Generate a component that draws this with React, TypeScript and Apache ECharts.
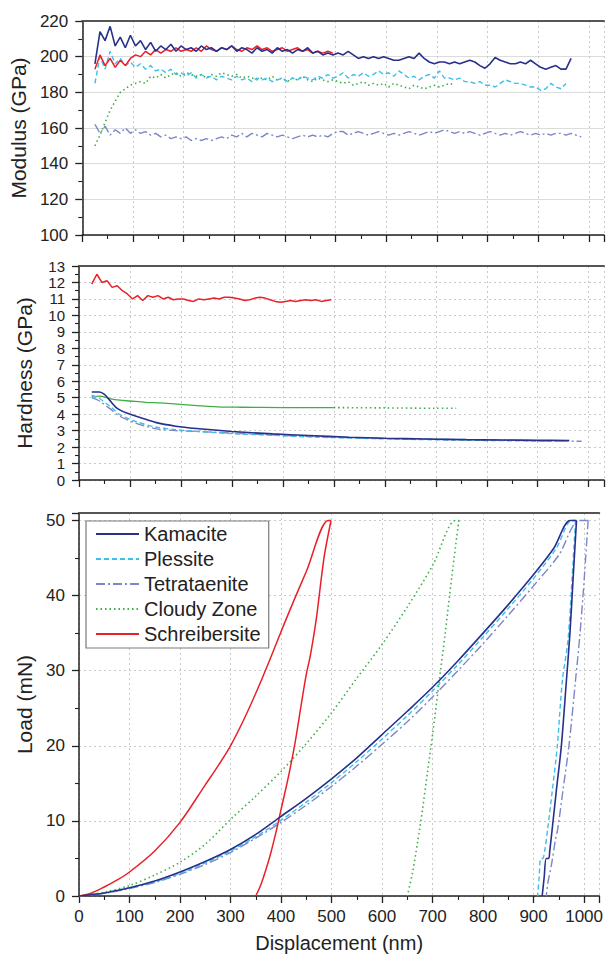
import React, { useEffect, useRef } from "react";
import * as echarts from "echarts";

const FONT = '"Liberation Sans", Arial, Helvetica, sans-serif';

// Sampled series start at 25 nm, every 10 nm
const START_NM = 25;
const STEP_NM = 10;

const materialNames = ["Kamacite", "Plessite", "Tetrataenite", "Cloudy Zone", "Schreibersite"];

// ---------- Modulus (GPa) ----------
const modKamacite = [
  196, 214, 209, 217, 206, 211, 205, 212, 206, 209,
  204, 208, 203, 206, 204, 207, 203, 206, 204, 205,
  203, 206, 204, 205, 203, 205, 204, 206, 203, 205,
  204, 202, 205, 203, 204, 202, 205, 203, 204, 202,
  204, 203, 205, 202, 203, 201, 202, 201, 202, 201,
  203, 201, 199, 200, 199, 200, 199, 200, 199, 198,
  198, 199, 200, 199, 202, 199, 197, 196, 197, 197,
  196, 197, 196, 197, 198, 197, 195, 193.5, 196, 199.5,
  198, 197, 196, 196, 197, 196, 198, 196, 194, 193,
  194, 195, 193, 193, 199,
];
const modPlessite = [
  185, 200, 193, 203, 196, 199, 195, 197, 194, 196,
  193, 195, 192, 193, 191, 193, 190, 191, 189, 191,
  188, 190, 188, 189, 187, 189, 188, 187, 189, 187,
  188, 186, 188, 187, 188, 186, 187, 188, 186, 188,
  187, 189, 188, 187, 189, 188, 190, 188, 189, 191,
  188, 190, 189, 191, 189, 190, 192, 190, 191, 189,
  192, 190, 188, 189, 187, 189, 190, 188, 192, 188,
  188, 187, 188, 186, 186, 185, 186, 184, 184, 183,
  185, 187, 186, 185, 185, 184, 183, 183, 181, 182,
  185, 183, 182, 185,
];
const modTetrataenite = [
  162, 157, 161, 156, 159, 157, 160, 157, 159, 157,
  158, 156, 157, 155, 156, 154, 155, 154, 155, 153,
  154, 153, 154, 153, 154, 155, 154, 156, 155, 157,
  155, 157, 156, 155, 157, 156, 155, 156, 155, 154,
  155, 156, 155, 156, 155, 156, 155, 157, 158, 158,
  156, 157, 158, 157, 156, 157, 158, 157, 156, 157,
  156, 157, 158, 157, 156, 157, 158, 157, 158, 159,
  158, 157, 158, 157, 158, 157, 156, 157, 158, 157,
  156, 157, 156, 157, 158, 157, 156, 157, 156, 157,
  156, 157, 157, 156, 157, 156, 155,
];
const modCloudy = [
  150, 156, 163, 170, 175, 180, 182, 184, 185, 186,
  185, 189, 188, 190, 188, 190, 191, 189, 191, 190,
  189, 190, 188, 190, 189, 191, 190, 189, 190, 188,
  189, 188, 187, 188, 187, 189, 187, 188, 186, 188,
  187, 189, 187, 186, 188, 187, 186, 187, 186, 185,
  186, 184, 185, 186, 184, 185, 184, 185, 183, 185,
  184, 183, 182, 184, 183, 182, 183, 184, 183, 184,
  185, 184,
];
const modSchreibersite = [
  193, 201, 195, 199, 194, 198, 195, 199, 201, 200,
  203, 201, 204, 202, 204, 203, 205, 203, 204, 203,
  205, 203, 206, 204, 203, 205, 204, 206, 204, 203,
  205, 204, 206, 204, 205, 203, 204, 205, 203, 204,
  205, 203, 204, 202, 203, 202, 203, 202,
];

// ---------- Hardness (GPa) ----------
const hardKamacite = [
  [25, 5.35], [40, 5.35], [50, 5.2], [60, 4.85], [75, 4.35], [95, 4.05], [120, 3.8],
  [150, 3.5], [190, 3.27], [230, 3.13], [300, 2.95], [380, 2.8], [450, 2.7], [530, 2.6],
  [600, 2.54], [680, 2.49], [760, 2.45], [830, 2.43], [900, 2.41], [962, 2.4],
];
const hardPlessite = [
  [25, 5.15], [40, 4.95], [60, 4.5], [80, 3.98], [110, 3.57], [150, 3.22], [190, 3.06],
  [230, 2.96], [300, 2.82], [380, 2.72], [450, 2.62], [600, 2.5], [750, 2.42], [900, 2.37],
  [952, 2.36],
];
const hardTetrataenite = [
  [25, 5.0], [40, 4.8], [60, 4.35], [80, 3.88], [110, 3.47], [150, 3.12], [190, 3.0],
  [230, 2.95], [300, 2.85], [450, 2.65], [600, 2.52], [750, 2.45], [900, 2.39], [986, 2.35],
];
// dense early part (appears solid), sparse later part (dotted)
const hardCloudyDense = [
  [25, 5.05], [40, 5.1], [60, 4.95], [80, 4.85], [100, 4.8], [130, 4.72], [160, 4.68],
  [200, 4.6], [240, 4.5], [280, 4.43], [320, 4.42], [400, 4.4], [500, 4.4],
];
const hardCloudy = [
  [500, 4.4], [600, 4.38], [700, 4.36], [740, 4.36],
];
const hardSchreibersite = [
  11.9, 12.5, 12.0, 12.1, 11.7, 11.8, 11.5, 11.3, 11.0, 11.2,
  10.9, 11.2, 11.1, 11.2, 11.0, 11.1, 10.95, 11.0, 11.0, 10.9,
  10.85, 11.0, 10.95, 11.0, 11.05, 11.0, 11.1, 11.1, 11.05, 11.0,
  10.9, 10.95, 11.05, 11.1, 11.05, 10.95, 10.85, 10.8, 10.85, 10.9,
  10.85, 10.9, 10.95, 10.9, 10.95, 10.85, 10.9, 10.95,
];

// ---------- Load (mN) vs displacement (nm): loading + hold, then unloading ----------
const loadKamaciteUp = [
  [0, 0], [50, 0.4], [100, 1.1], [150, 2.0], [200, 3.2], [250, 4.6], [300, 6.2], [350, 8.2],
  [400, 10.6], [450, 13.0], [500, 15.6], [550, 18.4], [600, 21.5], [650, 24.6], [700, 27.8],
  [750, 31.3], [800, 35.0], [850, 38.8], [900, 42.8], [940, 46.3], [972, 50], [985, 50],
];
const loadKamaciteDown = [
  [985, 50], [978, 42], [972, 35], [965, 28.7], [955, 20], [945, 14], [937, 9], [932, 6],
  [930, 5], [925, 5], [921, 2.5], [917, 0],
];
const loadPlessiteUp = [
  [0, 0], [50, 0.4], [100, 1.1], [150, 1.9], [200, 3.0], [250, 4.4], [300, 6.0], [350, 7.9],
  [400, 10.1], [450, 12.5], [500, 15.1], [550, 17.9], [600, 20.9], [650, 24.0], [700, 27.3],
  [750, 30.8], [800, 34.5], [850, 38.3], [900, 42.3], [945, 46.3], [975, 50], [983, 50],
];
const loadPlessiteDown = [
  [983, 50], [976, 42], [968, 34], [957, 28.7], [947, 20], [937, 14], [928, 9], [922, 6],
  [918, 5], [914, 5], [911, 2.5], [908, 0],
];
const loadTetrataeniteUp = [
  [0, 0], [50, 0.35], [100, 1.0], [150, 1.8], [200, 2.9], [250, 4.2], [300, 5.8], [350, 7.7],
  [400, 9.8], [450, 12.1], [500, 14.6], [550, 17.3], [600, 20.2], [650, 23.2], [700, 26.5],
  [750, 30.0], [800, 33.6], [850, 37.4], [900, 41.3], [950, 45.4], [990, 50], [1008, 50],
];
const loadTetrataeniteDown = [
  [1008, 50], [1000, 42], [992, 35], [983, 28.7], [970, 20], [958, 14], [948, 9], [943, 7.4],
  [935, 4], [929, 2], [925, 0],
];
const loadCloudyUp = [
  [0, 0], [50, 0.5], [100, 1.4], [150, 2.8], [200, 4.5], [250, 6.9], [300, 10.2], [350, 13.3],
  [400, 16.6], [450, 20.3], [500, 24.4], [550, 29.0], [600, 33.5], [650, 38.5], [700, 44.0],
  [745, 50], [752, 50],
];
const loadCloudyDown = [
  [752, 50], [738, 42.5], [725, 35], [712, 28], [700, 21.5], [690, 16.5], [680, 11.5],
  [670, 7], [660, 3], [650, 0],
];
const loadSchreibersiteUp = [
  [0, 0], [25, 0.4], [50, 1.2], [75, 2.1], [100, 3.2], [150, 6.0], [200, 9.8], [250, 14.8],
  [275, 17.3], [300, 20.0], [325, 23.3], [350, 27.0], [375, 31.0], [400, 35.2], [427, 39.6],
  [450, 43.2], [493, 50], [499, 50],
];
const loadSchreibersiteDown = [
  [499, 50], [485, 45], [470, 37], [458, 32], [450, 29.5], [440, 25.5], [428, 20.5],
  [415, 16], [400, 11.5], [390, 8.5], [380, 5.8], [370, 3.5], [360, 1.5], [350, 0],
];

// Axis ranges / ticks
const X_MIN = 0, X_MAX = 1030, X_INTERVAL = 100;
const MOD_MIN = 100, MOD_MAX = 220, MOD_INTERVAL = 20;
const HARD_MIN = 0, HARD_MAX = 13, HARD_INTERVAL = 1;
const LOAD_MIN = 0, LOAD_MAX = 51, LOAD_INTERVAL = 10;

const styles: Record<string, { color: string; type: any; width: number }> = {
  Kamacite: { color: "#27308a", type: "solid", width: 1.6 },
  Plessite: { color: "#3dbfea", type: [5, 3], width: 1.4 },
  Tetrataenite: { color: "#7d86c6", type: [9, 3, 2, 3], width: 1.4 },
  "Cloudy Zone": { color: "#3dae48", type: [1.5, 3], width: 1.6 },
  Schreibersite: { color: "#e8202a", type: "solid", width: 1.5 },
};

function sampled(vals: number[]) {
  return vals.map((v, i) => [START_NM + i * STEP_NM, v]);
}

function lineSeries(name: string, data: any[], idx: number, smooth = 0, override?: any) {
  const s = styles[name];
  return {
    type: "line",
    name,
    data,
    xAxisIndex: idx,
    yAxisIndex: idx,
    showSymbol: false,
    symbol: "none",
    smooth: smooth > 0 ? smooth : false,
    lineStyle: { color: s.color, type: s.type, width: s.width, ...(override || {}) },
    itemStyle: { color: s.color },
    emphasis: { disabled: true },
  };
}

const GRID_LEFT = 79;
const GRID_WIDTH = 525;
const grids = [
  { left: GRID_LEFT, width: GRID_WIDTH, top: 21, height: 214 },
  { left: GRID_LEFT, width: GRID_WIDTH, top: 266, height: 214 },
  { left: GRID_LEFT, width: GRID_WIDTH, top: 513, height: 383 },
];

const dotted = { color: "#c9c9c9", type: [2, 3], width: 1 };

function bottomXAxis(idx: number, withLabels: boolean) {
  return {
    type: "value",
    gridIndex: idx,
    min: X_MIN,
    max: X_MAX,
    interval: X_INTERVAL,
    position: "bottom",
    name: withLabels ? "Displacement (nm)" : "",
    nameLocation: "middle",
    nameGap: 37,
    nameTextStyle: { fontFamily: FONT, fontSize: 20, color: "#222" },
    axisLine: { show: true, onZero: false, lineStyle: { color: "#222", width: 1.5 } },
    axisTick: { show: true, length: 7, lineStyle: { color: "#222", width: 1.3 } },
    minorTick: { show: true, splitNumber: 2, length: 4, lineStyle: { color: "#222", width: 1.1 } },
    axisLabel: {
      show: withLabels,
      fontFamily: FONT,
      fontSize: 17,
      color: "#222",
      margin: 12,
      showMinLabel: true,
      formatter: (v: number) => (v % 100 === 0 ? String(v) : ""),
    },
    splitLine: { show: true, lineStyle: dotted },
    minorSplitLine: { show: false },
  };
}

function topXAxis(idx: number) {
  return {
    type: "value",
    gridIndex: idx,
    min: X_MIN,
    max: X_MAX,
    position: "top",
    axisLine: { show: true, onZero: false, lineStyle: { color: "#555", width: 2 } },
    axisTick: { show: false },
    axisLabel: { show: false },
    splitLine: { show: false },
  };
}

function yAxis(idx: number, name: string, min: number, max: number, interval: number, solidGrid: boolean, fontSize: number) {
  return {
    type: "value",
    gridIndex: idx,
    min,
    max,
    interval,
    name,
    nameLocation: "middle",
    nameGap: 44,
    nameTextStyle: { fontFamily: FONT, fontSize: 21, color: "#222" },
    axisLine: { show: true, onZero: false, lineStyle: { color: "#222", width: 1.5 } },
    axisTick: { show: true, length: 7, lineStyle: { color: "#222", width: 1.3 } },
    minorTick: { show: true, splitNumber: 2, length: 4, lineStyle: { color: "#222", width: 1.1 } },
    axisLabel: {
      fontFamily: FONT,
      fontSize,
      lineHeight: fontSize,
      color: "#222",
      margin: 14,
      showMinLabel: true,
      showMaxLabel: true,
      hideOverlap: false,
      formatter: (v: number) => (Math.abs(v / interval - Math.round(v / interval)) < 1e-6 ? String(v) : ""),
    },
    splitLine: {
      show: true,
      lineStyle: solidGrid ? { color: "#dcdcdc", type: "solid", width: 1 } : dotted,
    },
  };
}

export default function App() {
  const ref = useRef<HTMLDivElement>(null);
  useEffect(() => {
    document.body.style.margin = "0";
    if (!ref.current) return;
    const chart = echarts.init(ref.current, undefined, { renderer: "svg" });
    const order = ["Tetrataenite", "Cloudy Zone", "Plessite", "Schreibersite", "Kamacite"];
    const modData: Record<string, number[]> = {
      Kamacite: modKamacite,
      Plessite: modPlessite,
      Tetrataenite: modTetrataenite,
      "Cloudy Zone": modCloudy,
      Schreibersite: modSchreibersite,
    };
    const hardData: Record<string, any[]> = {
      Kamacite: hardKamacite,
      Plessite: hardPlessite,
      Tetrataenite: hardTetrataenite,
      "Cloudy Zone": hardCloudy,
      Schreibersite: sampled(hardSchreibersite),
    };
    const loadUp: Record<string, any[]> = {
      Kamacite: loadKamaciteUp,
      Plessite: loadPlessiteUp,
      Tetrataenite: loadTetrataeniteUp,
      "Cloudy Zone": loadCloudyUp,
      Schreibersite: loadSchreibersiteUp,
    };
    const loadDown: Record<string, any[]> = {
      Kamacite: loadKamaciteDown,
      Plessite: loadPlessiteDown,
      Tetrataenite: loadTetrataeniteDown,
      "Cloudy Zone": loadCloudyDown,
      Schreibersite: loadSchreibersiteDown,
    };
    const series: any[] = [];
    order.forEach((n) => series.push(lineSeries(n, sampled(modData[n]), 0)));
    order.forEach((n) => {
      if (n === "Cloudy Zone") {
        series.push(lineSeries(n, hardCloudyDense, 1, 0.3, { type: "solid", width: 1.3 }));
      }
      series.push(lineSeries(n, hardData[n], 1, n !== "Schreibersite" ? 0.3 : 0));
    });
    order.forEach((n) => {
      series.push(lineSeries(n, loadUp[n], 2, 0.3));
      series.push(lineSeries(n, loadDown[n], 2, 0.3));
    });

    chart.setOption({
      animation: false,
      backgroundColor: "#ffffff",
      textStyle: { fontFamily: FONT },
      grid: grids,
      xAxis: [
        bottomXAxis(0, false),
        bottomXAxis(1, false),
        bottomXAxis(2, true),
        topXAxis(0),
        topXAxis(1),
        topXAxis(2),
      ],
      yAxis: [
        yAxis(0, "Modulus (GPa)", MOD_MIN, MOD_MAX, MOD_INTERVAL, true, 17),
        yAxis(1, "Hardness (GPa)", HARD_MIN, HARD_MAX, HARD_INTERVAL, false, 15),
        yAxis(2, "Load (mN)", LOAD_MIN, LOAD_MAX, LOAD_INTERVAL, false, 17),
      ],
      legend: {
        data: materialNames,
        orient: "vertical",
        left: 86,
        top: 521,
        padding: [3, 8, 4, 9],
        itemGap: 5,
        itemWidth: 43,
        itemHeight: 14,
        borderColor: "#7a7a7a",
        borderWidth: 1.2,
        backgroundColor: "#ffffff",
        selectedMode: false,
        itemStyle: { opacity: 0, borderWidth: 0 },
        textStyle: { fontFamily: FONT, fontSize: 20, color: "#222", lineHeight: 20 },
        z: 10,
      },
      series,
    });
    return () => chart.dispose();
  }, []);
  return <div ref={ref} style={{ width: 606, height: 958 }} />;
}
